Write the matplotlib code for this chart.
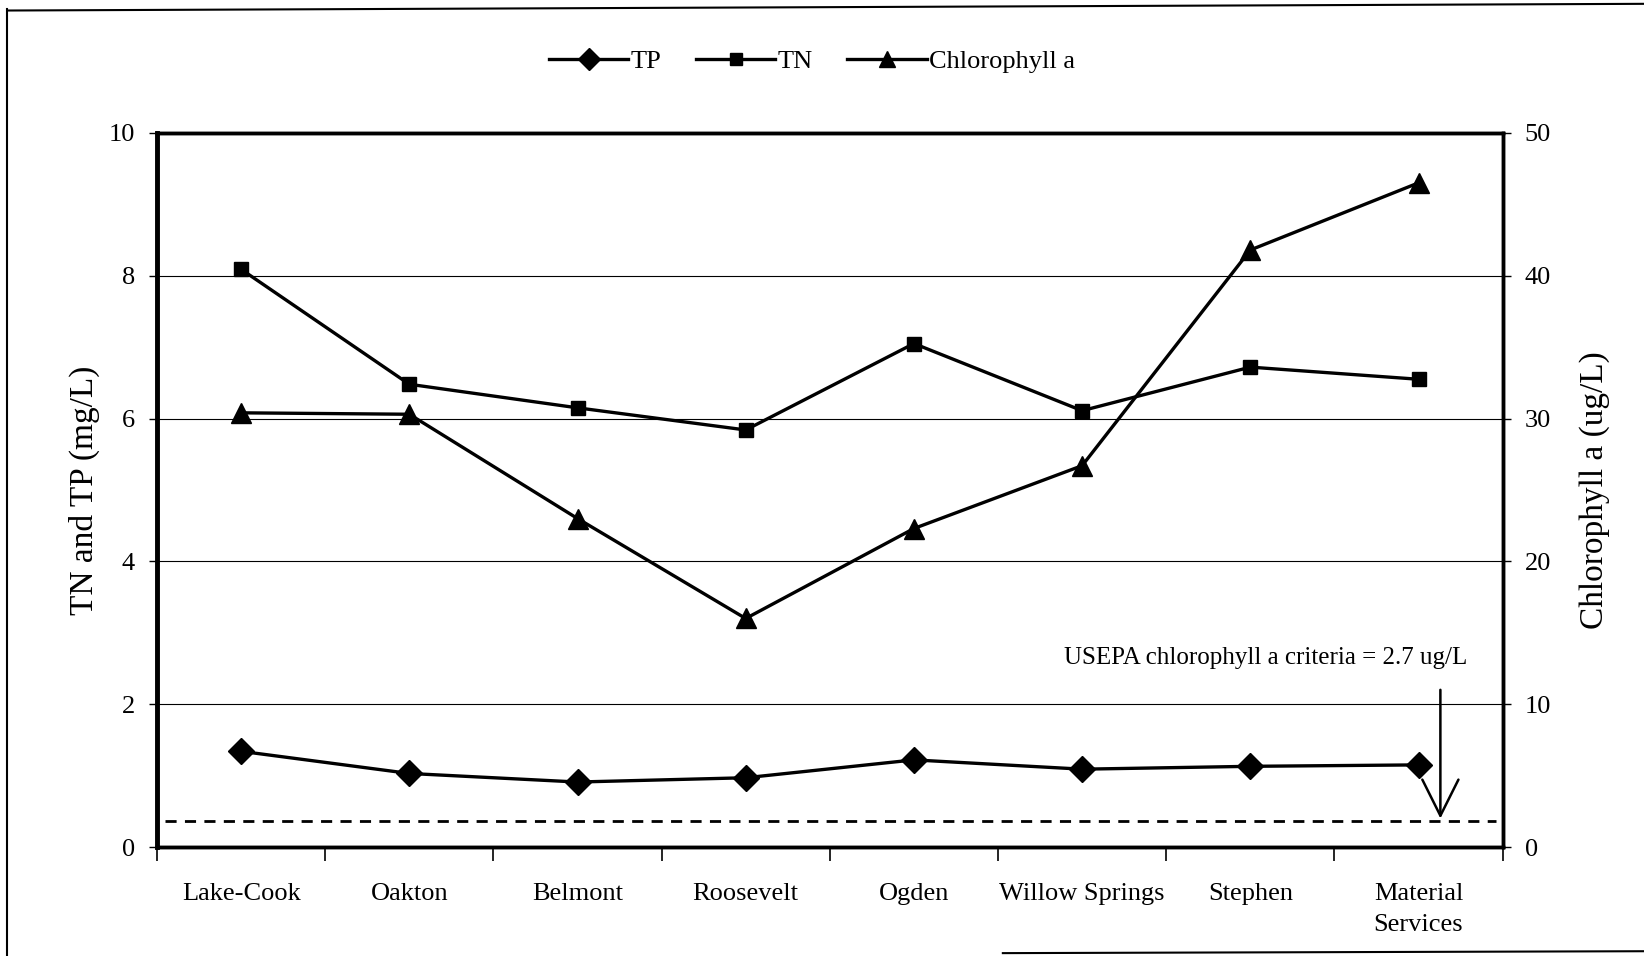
import numpy as np
import matplotlib
matplotlib.use('Agg')
from matplotlib import pyplot as plt
from matplotlib.lines import Line2D

plt.rcParams['font.family'] = ['Liberation Serif', 'DejaVu Serif']

# 数据
sites = ['Lake-Cook', 'Oakton', 'Belmont', 'Roosevelt', 'Ogden',
         'Willow Springs', 'Stephen', 'Material\nServices']
tp = [1.34, 1.03, 0.91, 0.97, 1.22, 1.09, 1.13, 1.15]          # mg/L
tn = [8.09, 6.48, 6.15, 5.84, 7.05, 6.11, 6.72, 6.55]          # mg/L
chl = [30.4, 30.3, 23.0, 16.0, 22.3, 26.7, 41.8, 46.5]          # ug/L
criteria_line = 1.8   # 虚线位置 (ug/L)

x = np.arange(len(sites))

fig = plt.figure(figsize=(16.44, 9.56), dpi=100)
ax = fig.add_axes([0.0955, 0.114, 0.8185, 0.747])
ax2 = ax.twinx()

# 折线
l_tp, = ax.plot(x, tp, color='k', lw=2.4, marker='D', ms=13, label='TP')
l_tn, = ax.plot(x, tn, color='k', lw=2.4, marker='s', ms=10.5, label='TN')
l_chl, = ax2.plot(x, chl, color='k', lw=2.4, marker='^', ms=14, label='Chlorophyll a')

# 标准虚线
ax2.axhline(criteria_line, xmin=0.006, xmax=0.995, color='k', lw=2, ls=(0, (4, 3)))

# 坐标范围
ax.set_xlim(-0.5, len(sites) - 0.5)
ax.set_ylim(0, 10)
ax2.set_ylim(0, 50)

ax.set_yticks([0, 2, 4, 6, 8, 10])
ax2.set_yticks([0, 10, 20, 30, 40, 50])
ax.tick_params(axis='y', labelsize=19, length=6, width=1, pad=10)
ax2.tick_params(axis='y', labelsize=19, length=6, width=1, pad=10)

# x轴: 分界处刻度, 类别标签在中间
ax.set_xticks(np.arange(-0.5, len(sites), 1.0))
ax.set_xticklabels([])
ax.tick_params(axis='x', which='major', direction='out', length=10, width=1.2)
ax.set_xticks(x, minor=True)
ax.set_xticklabels(sites, minor=True, fontsize=19, va='top', linespacing=1.5)
ax.tick_params(axis='x', which='minor', length=0, pad=26)

# 网格
ax.yaxis.grid(True, color='k', lw=0.8)
ax.set_axisbelow(True)

for a in (ax, ax2):
    for s in a.spines.values():
        s.set_linewidth(2.5)
ax.spines['left'].set_linewidth(3.5)

ax.set_ylabel('TN and TP (mg/L)', fontsize=24, labelpad=6)
ax2.set_ylabel('Chlorophyll a (ug/L)', fontsize=24, labelpad=20)

# 标注
ax2.text(6.09, 13.2, 'USEPA chlorophyll a criteria = 2.7 ug/L', fontsize=18,
         ha='center', va='center')
ax2.annotate('', xy=(7.13, criteria_line), xytext=(7.13, 11.2),
             arrowprops=dict(arrowstyle='->', lw=1.8, mutation_scale=65, color='k'))

# 图例
fig.legend(handles=[l_tp, l_tn, l_chl], loc='center', bbox_to_anchor=(0.494, 0.936),
           ncol=3, frameon=False, fontsize=19, handlelength=3.0,
           columnspacing=1.3, handletextpad=0.1, markerscale=0.85)

# 外框
fig.add_artist(Line2D([0.0045, 0.0045], [0.0, 0.991], color='k', lw=1.5))
fig.add_artist(Line2D([0.0045, 1.0], [0.989, 0.996], color='k', lw=1.5))
fig.add_artist(Line2D([0.61, 1.0], [0.003, 0.005], color='k', lw=1.5))

plt.savefig('out.png', dpi=100)
